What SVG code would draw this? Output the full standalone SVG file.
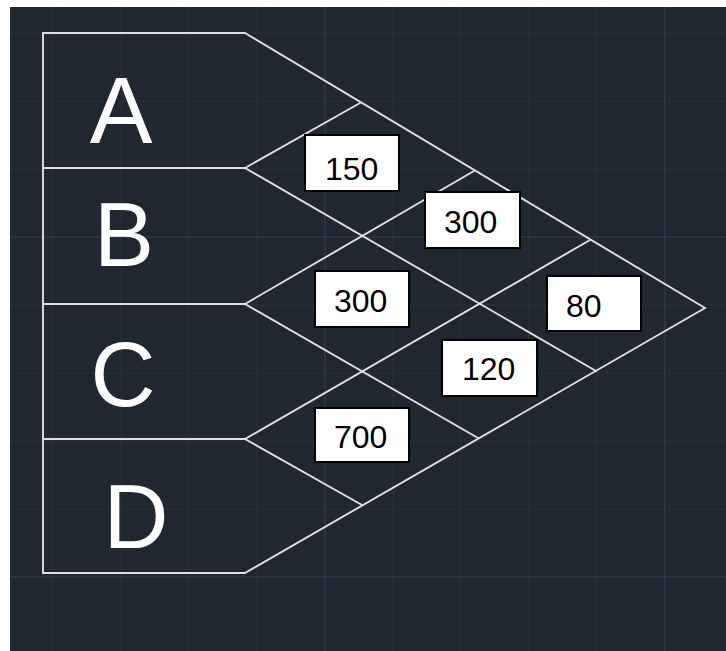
<svg xmlns="http://www.w3.org/2000/svg" width="726" height="651" viewBox="0 0 726 651">
<style>
.minor{stroke:#2a313b;stroke-width:1}
.major{stroke:#39404e;stroke-width:1}
.ln{stroke:#e0e0e0;stroke-width:1.9;fill:none;stroke-linecap:round}
.big{font-family:"Liberation Sans",Arial,sans-serif;font-size:90px;fill:#ffffff;text-anchor:middle}
.box{fill:#ffffff;stroke:#000000;stroke-width:2}
.val{font-family:"Liberation Sans",Arial,sans-serif;font-size:32px;fill:#000000}
</style>
<rect x="0" y="0" width="726" height="651" fill="#ffffff"/>
<rect x="10" y="7" width="716" height="644" fill="#212730"/>
<g id="grid">
<path class="minor" d="M53 7V651M121 7V651M189 7V651M257 7V651M393 7V651M461 7V651M529 7V651M597 7V651M10 33H726M10 101H726M10 169H726M10 305H726M10 373H726M10 441H726M10 509H726"/>
<path class="major" d="M325 7V651M665 7V651M10 237H726M10 577H726"/>
</g>
<g id="outline">
<path class="ln" d="M245 33H43V573H245M43 168H245M43 304H245M43 439H245"/>
</g>
<g id="node-A"><text class="big" x="121" y="143" style="font-size:94px">A</text></g>
<g id="node-B"><text class="big" x="124" y="266">B</text></g>
<g id="node-C"><text class="big" x="123" y="406">C</text></g>
<g id="node-D"><text class="big" x="136" y="548">D</text></g>
<g id="connectors">
<line class="ln" x1="245" y1="33" x2="705" y2="308"/>
<line class="ln" x1="245" y1="168" x2="360" y2="103"/>
<line class="ln" x1="245" y1="168" x2="596" y2="371"/>
<line class="ln" x1="245" y1="304" x2="474" y2="171"/>
<line class="ln" x1="245" y1="304" x2="478" y2="438"/>
<line class="ln" x1="245" y1="439" x2="590" y2="240"/>
<line class="ln" x1="245" y1="439" x2="362" y2="505"/>
<line class="ln" x1="245" y1="573" x2="705" y2="308"/>
</g>
<g id="v150"><rect class="box" x="305" y="135" width="94" height="56"/><text class="val" x="325" y="180">150</text></g>
<g id="v300a"><rect class="box" x="425" y="192" width="95" height="56"/><text class="val" x="444" y="233">300</text></g>
<g id="v300b"><rect class="box" x="315" y="271" width="94" height="56"/><text class="val" x="334" y="312">300</text></g>
<g id="v80"><rect class="box" x="547" y="276" width="94" height="55"/><text class="val" x="566" y="317">80</text></g>
<g id="v120"><rect class="box" x="442" y="340" width="95" height="56"/><text class="val" x="462" y="380">120</text></g>
<g id="v700"><rect class="box" x="315" y="408" width="94" height="54"/><text class="val" x="334" y="448">700</text></g>
</svg>
